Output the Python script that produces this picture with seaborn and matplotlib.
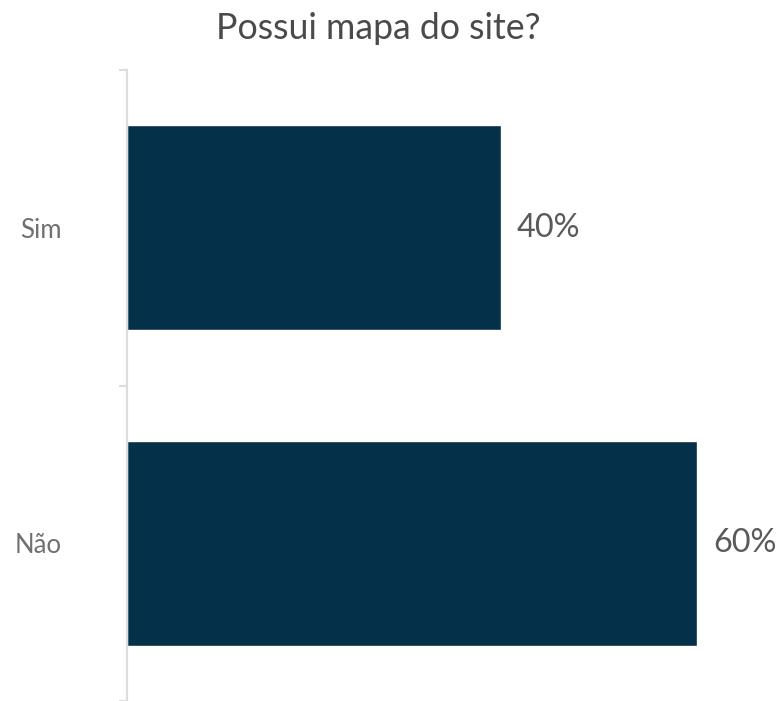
import matplotlib
matplotlib.use("Agg")
import matplotlib.pyplot as plt
import seaborn as sns

# Data
categories = ["Sim", "Não"]
values = [39.6, 60.4]
value_labels = ["40%", "60%"]

sns.set_style("white")
plt.rcParams["font.family"] = ["Lato", "DejaVu Sans"]

bar_color = "#05304A"
text_color = "#5a5a5a"

fig = plt.figure(figsize=(7.82, 7.01), dpi=100)
ax = fig.add_axes([127 / 782, 0.0, 655 / 782, 631 / 701])

sns.barplot(x=values, y=categories, orient="h", color=bar_color,
            saturation=1, width=0.65, ax=ax)

ax.set_xlim(0, 69.4)
ax.set_ylim(1.5, -0.5)

# value labels at the end of the bars
for i, (v, lab) in enumerate(zip(values, value_labels)):
    ax.text(v + 1.7, i, lab, va="center", ha="left",
            fontsize=23.3, color=text_color)

# spines / ticks
for side in ["top", "right", "bottom"]:
    ax.spines[side].set_visible(False)
ax.spines["left"].set_color("#dddddd")
ax.spines["left"].set_linewidth(1.6)

ax.set_xticks([])
ax.set_yticks([0, 1])
ax.set_yticklabels(categories, fontsize=18.5, color="#707070")
ax.tick_params(axis="y", which="major", length=0, pad=47)
ax.set_yticks([-0.5, 0.5, 1.5], minor=True)
ax.tick_params(axis="y", which="minor", length=6, width=1.5, color="#dddddd", left=True)
ax.set_xlabel("")
ax.set_ylabel("")

fig.text(378 / 782, 1 - 39 / 701, "Possui mapa do site?", ha="center", va="baseline",
         fontsize=25.7, color="#4a4a4a")

fig.savefig("out.png", dpi=100)
